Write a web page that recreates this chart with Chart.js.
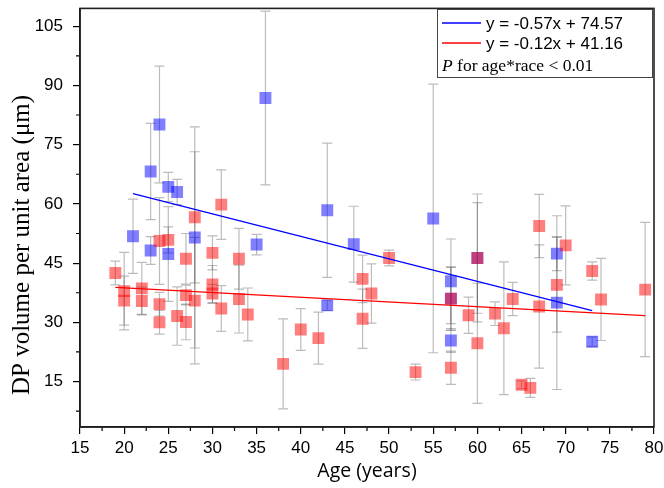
<!DOCTYPE html>
<html>
<head>
<meta charset="utf-8">
<script src="https://cdn.jsdelivr.net/npm/chart.js@4.4.1/dist/chart.umd.min.js"></script>
<style>
  html, body { margin: 0; padding: 0; background: #fff; }
</style>
</head>
<body>
<canvas id="dpChart" width="664" height="488"></canvas>
<script>
const xTicks = [15, 20, 25, 30, 35, 40, 45, 50, 55, 60, 65, 70, 75, 80];
const yTicks = [15, 30, 45, 60, 75, 90, 105];

// red group
const redAge = [19, 20, 20, 22, 22, 24, 24, 24, 25, 26, 27, 27, 27, 28, 28, 30, 30, 30, 31, 31,
  33, 33, 34, 38, 40, 42, 47, 47, 48, 50, 53, 57, 57, 59, 60, 60, 62, 63, 64, 65,
  66, 67, 67, 69, 70, 73, 74, 79];
const redVol = [42.5, 37.9, 35.5, 38.6, 35.4, 50.6, 34.6, 30.0, 50.9, 31.6, 46.1, 36.9, 30.1, 56.6, 35.5, 47.6, 39.6, 37.3, 59.8, 33.5,
  46.1, 35.9, 32.0, 19.5, 28.2, 26.0, 41.0, 30.9, 37.3, 46.3, 17.4, 36.0, 18.5, 31.8, 46.3, 24.7, 32.2, 28.5, 35.9, 14.2,
  13.4, 54.4, 34.0, 39.5, 49.5, 43.0, 35.8, 38.3];
const redErr = [3, 9.8, 6.2, 6.6, 3.5, 11, 3, 3, 3.3, 7.4, 6.4, 2.5, 4.5, 16.6, 16, 4.3, 4.8, 2.3, 8.8, 5.8,
  7.7, 8.6, 6.7, 11.4, 5.3, 6.6, 6, 7.5, 7.5, 2, 2, 8, 4.2, 4.6, 14, 15.2, 3, 16.8, 4.2, 1,
  2.4, 8, 15.6, 12, 10, 2.3, 10.4, 17];

// blue group
const blueAge = [21, 23, 23, 24, 25, 25, 26, 28, 35, 36, 43, 43, 46, 55, 57, 57, 57, 60, 69, 69, 73];
const blueVol = [51.8, 68.2, 48.2, 80.1, 64.3, 47.3, 63.0, 51.5, 49.7, 86.8, 58.4, 34.3, 49.8, 56.3, 40.4, 36.0, 25.4, 46.3, 47.4, 35.0, 25.1];
const blueErr = [9.4, 12.2, 3.5, 14.8, 3.7, 12, 3.2, 28, 2.6, 22, 17, 1.3, 9.6, 34, 10.7, 8, 3, 16.2, 4.3, 22, 1.2];

// fitted lines: y = slope * x + intercept
const fitSlope = [-0.57, -0.12];
const fitIntercept = [74.57, 41.16];

function pts(ages, vols, errs) {
  return ages.map((a, i) => ({ x: a, y: vols[i], err: errs[i] }));
}
function fitLine(ages, k) {
  const lo = Math.min(...ages), hi = Math.max(...ages);
  return [lo, hi].map(a => ({ x: a, y: fitSlope[k] * a + fitIntercept[k] }));
}

const errorBars = {
  id: 'errorBars',
  beforeDatasetsDraw(chart) {
    const { ctx, scales: { x, y } } = chart;
    ctx.save();
    ctx.strokeStyle = 'rgba(70,70,70,0.36)';
    ctx.lineWidth = 1.2;
    chart.data.datasets.forEach(ds => {
      if (!ds.errors) return;
      ds.data.forEach(p => {
        const px = x.getPixelForValue(p.x);
        const top = y.getPixelForValue(p.y + p.err);
        const bot = y.getPixelForValue(p.y - p.err);
        ctx.beginPath();
        ctx.moveTo(px, top); ctx.lineTo(px, bot);
        ctx.moveTo(px - 5, top); ctx.lineTo(px + 5, top);
        ctx.moveTo(px - 5, bot); ctx.lineTo(px + 5, bot);
        ctx.stroke();
      });
    });
    ctx.restore();
  }
};

const frameAndLegend = {
  id: 'frameAndLegend',
  afterDraw(chart) {
    const { ctx, chartArea: a, scales: { x, y } } = chart;
    ctx.save();
    // minor ticks
    ctx.strokeStyle = '#000';
    ctx.lineWidth = 1.2;
    ctx.beginPath();
    for (let i = 0; i < xTicks.length - 1; i++) {
      const px = x.getPixelForValue((xTicks[i] + xTicks[i + 1]) / 2);
      ctx.moveTo(px, a.bottom); ctx.lineTo(px, a.bottom + 4);
    }
    const yMinor = [yTicks[0] - 7.5].concat(yTicks.map(v => v + 7.5));
    yMinor.forEach(v => {
      if (v < y.min || v > y.max) return;
      const py = y.getPixelForValue(v);
      ctx.moveTo(a.left - 4, py); ctx.lineTo(a.left, py);
    });
    ctx.stroke();
    // frame
    ctx.lineWidth = 1.6;
    ctx.strokeStyle = '#222';
    ctx.strokeRect(a.left, a.top, a.right - a.left, a.bottom - a.top);

    // y axis title
    ctx.save();
    ctx.translate(22, 245);
    ctx.rotate(-Math.PI / 2);
    ctx.fillStyle = '#000';
    ctx.textAlign = 'center';
    ctx.textBaseline = 'middle';
    ctx.font = '25px "Liberation Serif", "Times New Roman", serif';
    ctx.fillText('DP volume per unit area (μm)', 0, 0);
    ctx.restore();

    // legend box
    const bx = 437, by = 9, bw = 215, bh = 68;
    ctx.fillStyle = '#fff';
    ctx.fillRect(bx, by, bw, bh);
    ctx.lineWidth = 1;
    ctx.strokeStyle = '#444';
    ctx.strokeRect(bx + 0.5, by + 0.5, bw, bh);
    const rows = [
      { color: '#0000ff', text: 'y = ' + fitSlope[0] + 'x + ' + fitIntercept[0], yy: 23 },
      { color: '#ff0000', text: 'y = ' + fitSlope[1] + 'x + ' + fitIntercept[1], yy: 43 }
    ];
    ctx.textBaseline = 'middle';
    ctx.textAlign = 'left';
    rows.forEach(r => {
      ctx.beginPath();
      ctx.strokeStyle = r.color;
      ctx.lineWidth = 1.4;
      ctx.moveTo(442, r.yy); ctx.lineTo(481, r.yy);
      ctx.stroke();
      ctx.fillStyle = '#000';
      ctx.font = '17px "Liberation Sans", Arial, sans-serif';
      ctx.fillText(r.text, 486, r.yy + 1);
    });
    ctx.font = 'italic 17.5px "Liberation Serif", "Times New Roman", serif';
    ctx.fillText('P', 442, 66);
    const pw = ctx.measureText('P').width;
    ctx.font = '17.5px "Liberation Serif", "Times New Roman", serif';
    ctx.fillText(' for age*race < 0.01', 442 + pw, 66);
    ctx.restore();
  }
};

const ctx = document.getElementById('dpChart').getContext('2d');

new Chart(ctx, {
  type: 'scatter',
  data: {
    datasets: [
      {
        label: 'blue fit',
        data: fitLine(blueAge, 0),
        showLine: true,
        borderColor: '#0000ff',
        borderWidth: 1.2,
        pointRadius: 0
      },
      {
        label: 'red fit',
        data: fitLine(redAge, 1),
        showLine: true,
        borderColor: '#ff0000',
        borderWidth: 1.2,
        pointRadius: 0
      },
      {
        label: 'red',
        data: pts(redAge, redVol, redErr),
        errors: true,
        pointStyle: 'rect',
        pointRadius: 8.4,
        backgroundColor: 'rgba(255,0,0,0.5)',
        borderWidth: 0
      },
      {
        label: 'blue',
        data: pts(blueAge, blueVol, blueErr),
        errors: true,
        pointStyle: 'rect',
        pointRadius: 8.4,
        backgroundColor: 'rgba(0,0,255,0.5)',
        borderWidth: 0
      }
    ]
  },
  options: {
    responsive: false,
    animation: false,
    layout: { padding: { left: 0, right: 10, top: 4, bottom: 0 } },
    plugins: {
      legend: { display: false },
      tooltip: { enabled: false }
    },
    scales: {
      x: {
        type: 'linear',
        min: 15,
        max: 80,
        afterBuildTicks: s => { s.ticks = xTicks.map(v => ({ value: v })); },
        afterFit: s => { s.height = 61; s.paddingLeft = 0; s.paddingRight = 0; },
        grid: { drawOnChartArea: false, drawTicks: true, tickLength: 7, color: '#000', lineWidth: 1.2 },
        border: { display: true, color: '#000', width: 1.6 },
        ticks: { color: '#000', padding: 4, maxRotation: 0, font: { family: '"Liberation Sans", Arial, sans-serif', size: 17 } },
        title: {
          display: true,
          text: 'Age (years)',
          color: '#000',
          padding: { top: 0, bottom: 5 },
          font: { family: '"Open Sans", sans-serif', size: 19.5 }
        }
      },
      y: {
        type: 'linear',
        min: 3.5,
        max: 109.5,
        afterBuildTicks: s => { s.ticks = yTicks.map(v => ({ value: v })); },
        afterFit: s => { s.width = 80; s.paddingTop = 0; s.paddingBottom = 0; },
        grid: { drawOnChartArea: false, drawTicks: true, tickLength: 7, color: '#000', lineWidth: 1.2 },
        border: { display: true, color: '#000', width: 1.6 },
        ticks: { color: '#000', padding: 10, font: { family: '"Liberation Sans", Arial, sans-serif', size: 17 } }
      }
    }
  },
  plugins: [errorBars, frameAndLegend]
});
</script>
</body>
</html>
